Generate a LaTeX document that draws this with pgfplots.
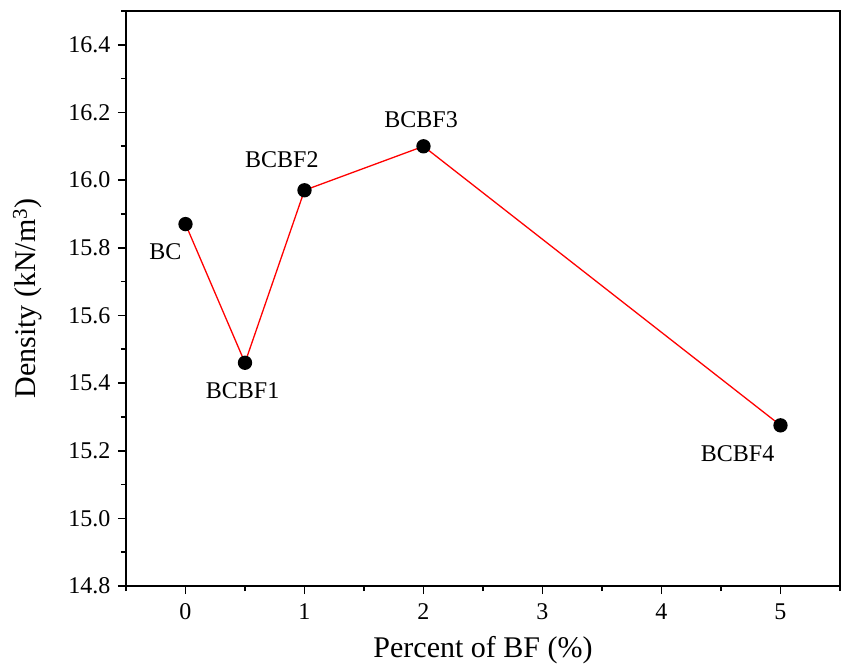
\documentclass[border=0pt]{standalone}
\usepackage{pgfplots}
\pgfplotsset{compat=1.18}
\usepackage{fontspec}
\setmainfont{Liberation Serif}
\begin{document}
\begin{tikzpicture}[x=1pt,y=1pt]
\useasboundingbox (-126,-84) rectangle (717,586);
\begin{axis}[
  at={(0,0)}, anchor=south west,
  scale only axis, width=714pt, height=575pt,
  xmin=-0.5, xmax=5.5, ymin=14.8, ymax=16.5,
  xtick={0,1,2,3,4,5}, minor xtick={-0.5,0.5,1.5,2.5,3.5,4.5,5.5},
  xticklabels={0,1,2,3,4,5},
  ytick={14.8,15.0,15.2,15.4,15.6,15.8,16.0,16.2,16.4},
  yticklabels={14.8,15.0,15.2,15.4,15.6,15.8,16.0,16.2,16.4},
  minor ytick={14.9,15.1,15.3,15.5,15.7,15.9,16.1,16.3,16.5},
  tick align=outside, tick pos=left,
  major tick length=8pt, minor tick length=5pt,
  every tick/.style={black, line width=1.6pt},
  axis line style={line width=1.6pt},
  ticklabel style={font=\rmfamily\fontsize{24}{28}\selectfont},
  xticklabel style={yshift=-6pt},
  yticklabel style={xshift=-4pt},
  xlabel={Percent of BF (\%)},
  ylabel={Density (kN/m\textsuperscript{3})},
  label style={font=\rmfamily\fontsize{30}{34}\selectfont},
  xlabel style={at={(axis description cs:0.5,0)}, anchor=north, yshift=-47pt},
  ylabel style={at={(axis description cs:0,0.5)}, anchor=south, xshift=0pt, yshift=80pt},
  clip=false,
]
\addplot[red, line width=1.3pt, mark=*, mark size=6.5pt, mark options={black, fill=black}]
  coordinates {(0,15.87) (0.5,15.46) (1,15.97) (2,16.10) (5,15.275)};
\begin{scope}[every node/.style={font=\rmfamily\fontsize{24}{28}\selectfont, inner sep=0pt}]
\node at (axis cs:-0.17,15.787) {BC};
\node at (axis cs:0.48,15.378) {BCBF1};
\node at (axis cs:0.81,16.061) {BCBF2};
\node at (axis cs:1.98,16.18) {BCBF3};
\node at (axis cs:4.64,15.19) {BCBF4};
\end{scope}
\end{axis}
\end{tikzpicture}
\end{document}
